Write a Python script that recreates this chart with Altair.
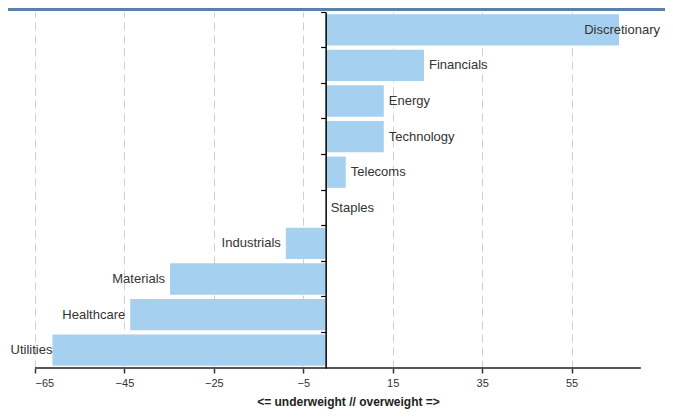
import altair as alt
import pandas as pd
import numpy as np

# ---- data ----
categories = ["Discretionary", "Financials", "Energy", "Technology", "Telecoms",
              "Staples", "Industrials", "Materials", "Healthcare", "Utilities"]
values = [65.6, 22.0, 13.0, 13.0, 4.5, 0.0, -8.9, -34.8, -43.7, -61.1]
tick_values = [-65, -45, -25, -5, 15, 35, 55]
axis_title = "<= underweight // overweight =>"

x_min, x_max = -65, 75
axis_end = 70.5

W, H = 626, 356
PAD = {"left": 27, "top": 4, "right": 4, "bottom": 42}

FONT = "Liberation Sans"
BAR = "#a5d0ef"

df = pd.DataFrame({"sector": categories, "value": values})
df["zero"] = 0.0
over_r = df["value"] > x_max - 15
over_l = df["value"] < x_min + 5
df["place"] = np.where(over_r, "inside",
               np.where(over_l, "tight",
               np.where(df["value"] >= 0, "right", "left")))
df["lab_x"] = np.where(over_r, x_max, df["value"])

xscale = alt.Scale(domain=[x_min, x_max], nice=False, zero=False)
yscale = alt.Scale(domain=categories, paddingInner=0, paddingOuter=0)
y_offset = -W * (0 - x_min) / (x_max - x_min)

x_axis = alt.Axis(values=tick_values, grid=True, gridDash=[8, 5],
                  gridColor="#cfcfcf", gridWidth=1, domain=False,
                  tickSize=5, tickColor="#333333", tickWidth=1.5,
                  labelFont=FONT, labelFontSize=11, labelColor="#333333",
                  labelPadding=4, title=axis_title, titleFont=FONT,
                  titleFontSize=12, titleFontWeight="bold",
                  titleColor="#222222", titlePadding=8)
y_axis = alt.Axis(offset=y_offset, labels=False, title=None,
                  domainColor="#000000", domainWidth=1.5,
                  tickColor="#000000", tickSize=5, tickWidth=1.2,
                  bandPosition=0, grid=False, zindex=1)

base = alt.Chart(df)

bars = base.mark_bar(color=BAR, height={"band": 0.88}).encode(
    x=alt.X("value:Q", scale=xscale, axis=x_axis, title=axis_title),
    x2=alt.X2("zero:Q"),
    y=alt.Y("sector:N", sort=categories, scale=yscale, axis=y_axis),
)

def labels(place, align, dx):
    return base.transform_filter(alt.datum.place == place).mark_text(
        align=align, baseline="middle", dx=dx, font=FONT, fontSize=13,
        color="#333333"
    ).encode(
        x=alt.X("lab_x:Q", scale=xscale, axis=x_axis, title=axis_title),
        y=alt.Y("sector:N", sort=categories, scale=yscale, axis=y_axis),
        text="sector:N",
    )

lab_right = labels("right", "left", 5)
lab_left = labels("left", "right", -5)
lab_tight = labels("tight", "right", 0)
lab_inside = labels("inside", "right", -1)

line_df = pd.DataFrame({"x0": [x_min], "x1": [axis_end]})
x_axis_line = alt.Chart(line_df).mark_rule(color="#555555", strokeWidth=2).encode(
    x=alt.X("x0:Q", scale=xscale, axis=x_axis, title=axis_title),
    x2=alt.X2("x1:Q"),
    y=alt.value(H),
)

one = alt.Chart(pd.DataFrame({"k": [0]}))
top_line = one.mark_rule(color="#5b80aa", strokeWidth=3).encode(
    x=alt.value(-PAD["left"]), x2=alt.value(W + PAD["right"]), y=alt.value(-2.5)
)

chart = alt.layer(bars, x_axis_line, lab_right, lab_left, lab_tight, lab_inside, top_line).properties(
    width=W, height=H,
    autosize=alt.AutoSizeParams(type="none"),
    padding=PAD,
).configure_view(stroke=None)

chart.save("out.html", embed_options={"renderer": "svg", "actions": False})
